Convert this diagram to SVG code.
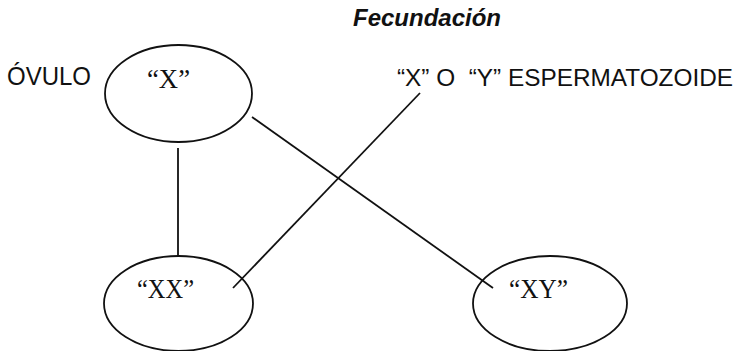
<svg xmlns="http://www.w3.org/2000/svg" width="746" height="351" viewBox="0 0 746 351">
<style>
.node{fill:none;stroke:#111;stroke-width:1.8}
.edge{stroke:#111;stroke-width:1.8;fill:none}
.sans{font-family:"Liberation Sans",Arial,sans-serif;font-size:25px;fill:#111;white-space:pre}
.serif{font-family:"Liberation Serif","Times New Roman",serif;font-size:27px;fill:#111}
.title{font-family:"Liberation Sans",Arial,sans-serif;font-size:24px;font-weight:bold;font-style:italic;fill:#111;text-anchor:middle}
</style>
<rect width="746" height="351" fill="#fff"/>
<text class="title" x="427" y="26">Fecundación</text>
<text class="sans" x="7" y="85" textLength="84" lengthAdjust="spacingAndGlyphs">ÓVULO</text>
<text class="sans" x="397" y="86" xml:space="preserve" style="font-size:24px" textLength="336" lengthAdjust="spacingAndGlyphs">“X” O  “Y” ESPERMATOZOIDE</text>
<g id="connectors">
<line class="edge" x1="178" y1="148" x2="178" y2="256"/>
<line class="edge" x1="252" y1="117" x2="493" y2="288"/>
<line class="edge" x1="420" y1="93" x2="233" y2="288"/>
</g>
<g id="node-x">
<ellipse class="node" cx="178.5" cy="93.5" rx="73.5" ry="48.5"/>
<text class="serif" x="147" y="88" textLength="43" lengthAdjust="spacingAndGlyphs">“X”</text>
</g>
<g id="node-xx">
<ellipse class="node" cx="178.5" cy="303.5" rx="74.5" ry="47.5"/>
<text class="serif" x="137" y="298" textLength="57" lengthAdjust="spacingAndGlyphs">“XX”</text>
</g>
<g id="node-xy">
<ellipse class="node" cx="550" cy="303.5" rx="77" ry="47.5"/>
<text class="serif" x="509" y="298" textLength="59" lengthAdjust="spacingAndGlyphs">“XY”</text>
</g>
</svg>
